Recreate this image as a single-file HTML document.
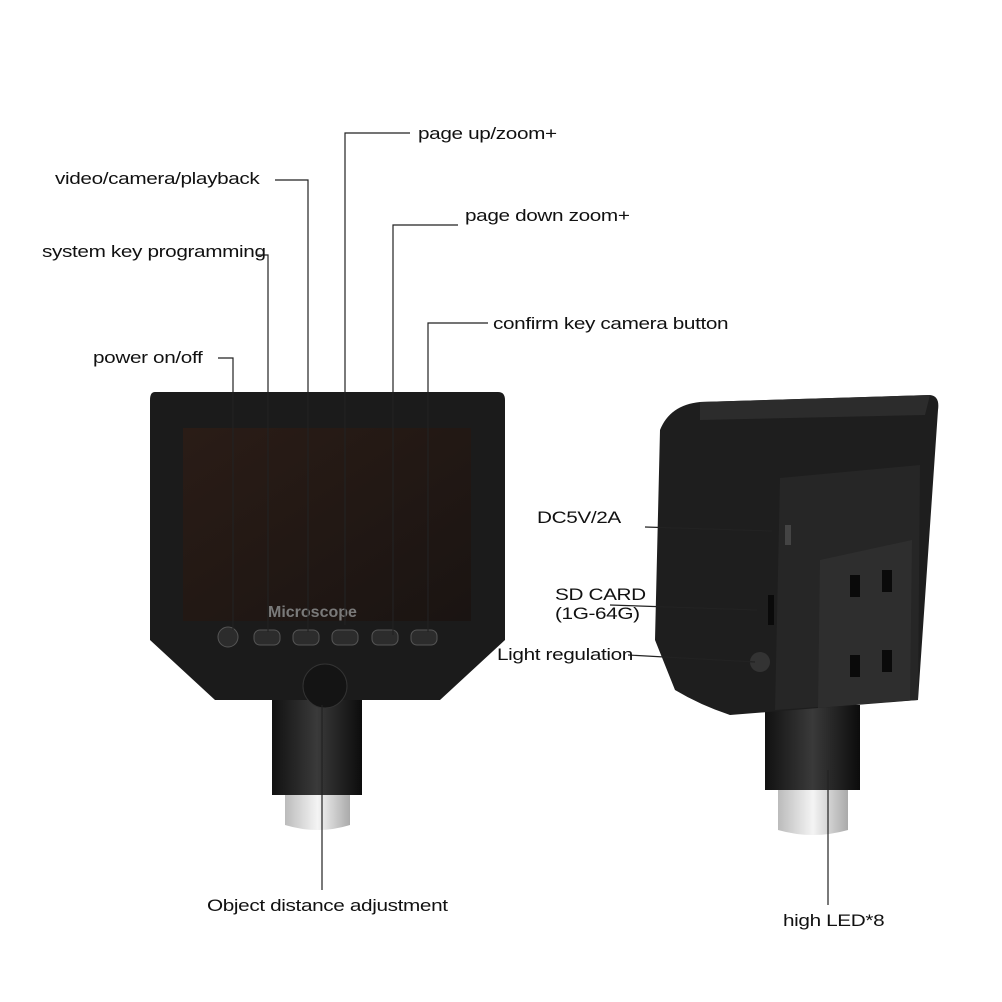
<!DOCTYPE html>
<html><head><meta charset="utf-8">
<style>
html,body{margin:0;padding:0;background:#fff;}
#c{position:relative;width:1002px;height:1002px;overflow:hidden;background:#fff;font-family:"Liberation Sans",sans-serif;}
.t{position:absolute;font-size:17px;color:#111;white-space:nowrap;letter-spacing:-0.3px;transform:scaleX(1.22);transform-origin:0 0;}
</style></head><body><div id="c">
<svg width="1002" height="1002" style="position:absolute;left:0;top:0">
<defs>
<linearGradient id="tube" x1="0" x2="1"><stop offset="0" stop-color="#111"/><stop offset="0.5" stop-color="#3a3a3a"/><stop offset="1" stop-color="#0c0c0c"/></linearGradient>
<linearGradient id="lens" x1="0" x2="1"><stop offset="0" stop-color="#bbb"/><stop offset="0.5" stop-color="#f4f4f4"/><stop offset="1" stop-color="#aaa"/></linearGradient>
<linearGradient id="scr" x1="0" y1="0" x2="1" y2="1"><stop offset="0" stop-color="#2a1c16"/><stop offset="1" stop-color="#1a1412"/></linearGradient>
</defs>
<rect x="272" y="700" width="90" height="95" fill="url(#tube)"/>
<path d="M285 795 L350 795 L350 825 Q318 835 285 825 Z" fill="url(#lens)"/>
<path d="M155 392 L498 392 Q505 392 505 400 L505 640 L440 700 L215 700 L150 640 L150 400 Q150 392 155 392 Z" fill="#1b1b1b"/>
<rect x="183" y="428" width="288" height="193" fill="url(#scr)"/>
<text x="268" y="617" font-family="Liberation Sans" font-weight="bold" font-size="16" fill="#7a7a7a">Microscope</text>
<g fill="#2c2c2c" stroke="#555" stroke-width="1">
<circle cx="228" cy="637" r="10"/>
<rect x="254" y="630" width="26" height="15" rx="6"/>
<rect x="293" y="630" width="26" height="15" rx="6"/>
<rect x="332" y="630" width="26" height="15" rx="6"/>
<rect x="372" y="630" width="26" height="15" rx="6"/>
<rect x="411" y="630" width="26" height="15" rx="6"/>
</g>
<circle cx="325" cy="686" r="22" fill="#141414" stroke="#333"/>
<rect x="765" y="705" width="95" height="85" fill="url(#tube)"/>
<path d="M778 790 L848 790 L848 830 Q813 840 778 830 Z" fill="url(#lens)"/>
<path d="M700 402 L930 395 Q940 396 938 410 L918 700 L730 715 Q700 705 675 690 L655 640 L660 430 Q670 405 700 402 Z" fill="#1e1e1e"/>
<path d="M700 402 L930 395 L925 415 L700 420 Z" fill="#2c2c2c"/>
<path d="M780 478 L920 465 L918 700 L775 710 Z" fill="#262626"/>
<path d="M820 560 L912 540 L910 700 L818 708 Z" fill="#2e2e2e"/>
<g fill="#0a0a0a"><rect x="850" y="575" width="10" height="22"/><rect x="882" y="570" width="10" height="22"/><rect x="850" y="655" width="10" height="22"/><rect x="882" y="650" width="10" height="22"/></g>
<circle cx="760" cy="662" r="10" fill="#333"/>
<rect x="785" y="525" width="6" height="20" fill="#444"/>
<rect x="768" y="595" width="6" height="30" fill="#0a0a0a"/>
<g stroke="#222" stroke-width="1.2" fill="none">
<path d="M410 133 H345 V625"/>
<path d="M275 180 H308 V632"/>
<path d="M458 225 H393 V635"/>
<path d="M258 255 H268 V632"/>
<path d="M488 323 H428 V632"/>
<path d="M218 358 H233 V630"/>
<path d="M322 705 V890"/>
<path d="M645 527 L772 531"/>
<path d="M610 605 L757 610"/>
<path d="M628 655 L755 662"/>
<path d="M828 770 V905"/>
</g>
</svg>
<div class="t" style="left:418px;top:124px">page up/zoom+</div>
<div class="t" style="left:55px;top:169px">video/camera/playback</div>
<div class="t" style="left:465px;top:206px">page down zoom+</div>
<div class="t" style="left:42px;top:242px">system key programming</div>
<div class="t" style="left:493px;top:314px">confirm key camera button</div>
<div class="t" style="left:93px;top:348px">power on/off</div>
<div class="t" style="left:537px;top:508px">DC5V/2A</div>
<div class="t" style="left:555px;top:585px">SD CARD</div>
<div class="t" style="left:555px;top:604px">(1G-64G)</div>
<div class="t" style="left:497px;top:645px">Light regulation</div>
<div class="t" style="left:207px;top:896px">Object distance adjustment</div>
<div class="t" style="left:783px;top:911px">high LED*8</div>
</div></body></html>
